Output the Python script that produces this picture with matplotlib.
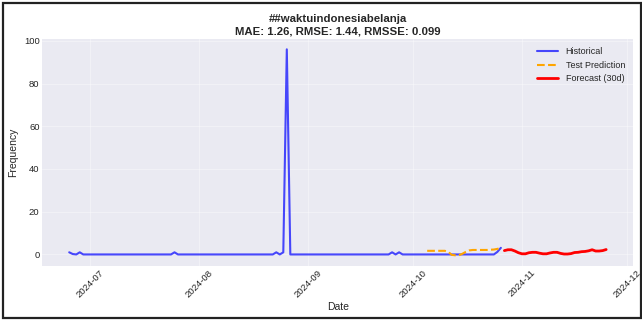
import matplotlib
matplotlib.use("Agg")
import matplotlib.pyplot as plt
import matplotlib.dates as mdates
import numpy as np
import pandas as pd
from matplotlib.patches import Rectangle

# daily counts for the hashtag, split by month
hist_jun = [1, 0.2, 0, 1, 0, 0]  # Jun 25-30
hist_jul = [0] * 24 + [1] + [0] * 6
hist_aug = [0] * 22 + [1, 0, 1, 96, 0] + [0] * 4
hist_sep = [0] * 24 + [1, 0, 1] + [0] * 3
hist_oct = [0] * 24 + [1.2, 3.1]  # Oct 1-26
hist_values = hist_jun + hist_jul + hist_aug + hist_sep + hist_oct
hist_dates = pd.date_range("2024-06-25", periods=len(hist_values), freq="D")

# model output on the held-out window
test_values = [1.7, 1.7, 1.7, 1.7, 1.7, 1.7, 1.2, -0.2, -0.4, -0.4, 0.3,
               1.2, 1.9, 2.1, 2.1, 2.1, 2.1, 2.1, 2.2, 2.3, 2.6, 3.1]
test_dates = pd.date_range("2024-10-05", periods=len(test_values), freq="D")

# 30 day forecast
fc_values = [1.8, 2.2, 2.2, 1.6, 0.8, 0.3, 0.3, 0.8, 1.0, 1.0, 0.6, 0.3,
             0.3, 0.7, 1.0, 1.0, 0.5, 0.2, 0.2, 0.4, 0.9, 1.0, 1.3, 1.4,
             1.7, 2.2, 1.6, 1.6, 1.8, 2.3]
fc_dates = pd.date_range("2024-10-27", periods=len(fc_values), freq="D")

title = "##waktuindonesiabelanja\nMAE: 1.26, RMSE: 1.44, RMSSE: 0.099"

plt.style.use("seaborn-v0_8-darkgrid")
plt.rcParams["font.family"] = ["Liberation Sans", "DejaVu Sans"]

fig = plt.figure(figsize=(6.42, 3.2), dpi=100)
ax = fig.add_axes([0.066, 0.17, 0.92, 0.708])

ax.plot(hist_dates, hist_values, color="blue", alpha=0.7, lw=1.5, label="Historical")
ax.plot(test_dates, test_values, color="orange", ls="--", lw=1.5, label="Test Prediction")
ax.plot(fc_dates, fc_values, color="red", lw=2, label="Forecast (30d)")

ax.set_title(title, fontsize=8.2, fontweight="bold", color="#262626", pad=3,
             linespacing=1.4)
ax.set_xlabel("Date", fontsize=7.5, labelpad=2)
ax.set_ylabel("Frequency", fontsize=7.5, labelpad=4)
ax.set_yticks(np.arange(0, 101, 20))
ax.xaxis.set_major_locator(mdates.MonthLocator())
ax.xaxis.set_major_formatter(mdates.DateFormatter("%Y-%m"))
ax.tick_params(axis="both", labelsize=6.8, pad=2)
plt.setp(ax.get_xticklabels(), rotation=45)
ax.grid(True, alpha=0.35)
ax.legend(loc="upper right", fontsize=6.5, frameon=False, handlelength=2.4)

# outer frame round the whole figure
fig.patches.append(Rectangle((0.004, 0.006), 0.994, 0.984, transform=fig.transFigure,
                             fill=False, edgecolor="#222222", lw=1.6))

fig.savefig("out.png", dpi=100)
